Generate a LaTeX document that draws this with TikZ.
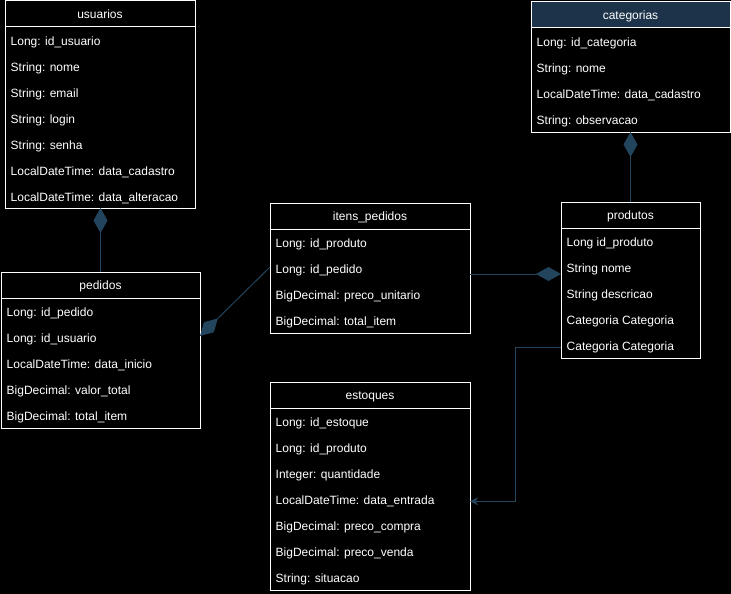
\documentclass[tikz,border=0pt]{standalone}
\usepackage{fontspec}
\setmainfont{Liberation Sans}
\usetikzlibrary{arrows.meta,calc}
\definecolor{lnk}{HTML}{23445D}
\definecolor{hdr}{HTML}{1C3349}
\tikzset{
  x=1pt, y=-1pt,
  tbl/.style={draw=white, line width=1pt, fill=black, rectangle, anchor=north west, inner sep=0pt, outer sep=0pt},
  ttl/.style={text=white, font=\fontsize{12}{14}\selectfont, inner sep=0pt},
  fld/.style={text=white, font=\fontsize{12}{14}\selectfont, anchor=west, inner sep=0pt},
  conn/.style={draw=lnk, line width=1pt},
  comp/.style={conn, -{Diamond[length=25pt,width=14pt,fill=lnk]}},
  nav/.style={conn, -{Stealth[length=8pt,width=8pt,inset=2.5pt,fill=lnk]}},
}
% name, x, y, width, height, title, fields, header fill
\newcommand{\umltable}[8]{%
  \node[tbl, minimum width=#4pt, minimum height=#5pt] (#1) at (#2,#3) {};
  \fill[#8] ([shift={(0.5pt,-0.5pt)}]#1.north west) rectangle ([shift={(-0.5pt,-26pt)}]#1.north east);
  \draw[white, line width=1pt] ([yshift=-26pt]#1.north west) -- ([yshift=-26pt]#1.north east);
  \node[ttl, anchor=base] (#1-t) at ([yshift=-17.5pt]#1.north) {#6};
  \foreach \f [count=\i from 0] in {#7}
    \node[fld, anchor=base west] (#1-\i) at ([xshift=5.5pt,yshift={-(44.5+26*\i)*1pt}]#1.north west) {\f};
}
\begin{document}
\begin{tikzpicture}
\fill[black] (0,0) rectangle (731,594);
\useasboundingbox (0,0) rectangle (731,594);

\umltable{us}{5}{1}{190}{207}{usuarios}{Long: id\_usuario, String: nome, String: email, String: login, String: senha, LocalDateTime: data\_cadastro, LocalDateTime: data\_alteracao}{black}
\umltable{ca}{531}{2}{199}{130}{categorias}{Long: id\_categoria, String: nome, LocalDateTime: data\_cadastro, String: observacao}{hdr}
\umltable{pr}{561}{202}{139}{156}{produtos}{Long id\_produto, String nome, String descricao, Categoria Categoria, Categoria Categoria}{black}
\umltable{it}{270}{203}{200}{130}{itens\_pedidos}{Long: id\_produto, Long: id\_pedido, BigDecimal: preco\_unitario, BigDecimal: total\_item}{black}
\umltable{pe}{1}{272}{199}{156}{pedidos}{Long: id\_pedido, Long: id\_usuario, LocalDateTime: data\_inicio, BigDecimal: valor\_total, BigDecimal: total\_item}{black}
\umltable{es}{270}{382}{200}{208}{estoques}{Long: id\_estoque, Long: id\_produto, Integer: quantidade, LocalDateTime: data\_entrada, BigDecimal: preco\_compra, BigDecimal: preco\_venda, String: situacao}{black}

\draw[comp] (pe.north) -- (pe.north |- us.south);
\draw[comp] (pr.north) -- (pr.north |- ca.south);
\draw[comp] (it.west |- 0,267) -- (pe.east |- 0,336);
\draw[comp] (it.east |- 0,274) -- (pr.west |- 0,274);
\draw[nav] (pr-4.west -| pr.west) -- (pr-4.west -| 515,0) |- (es-3.west -| es.east);
\end{tikzpicture}
\end{document}
